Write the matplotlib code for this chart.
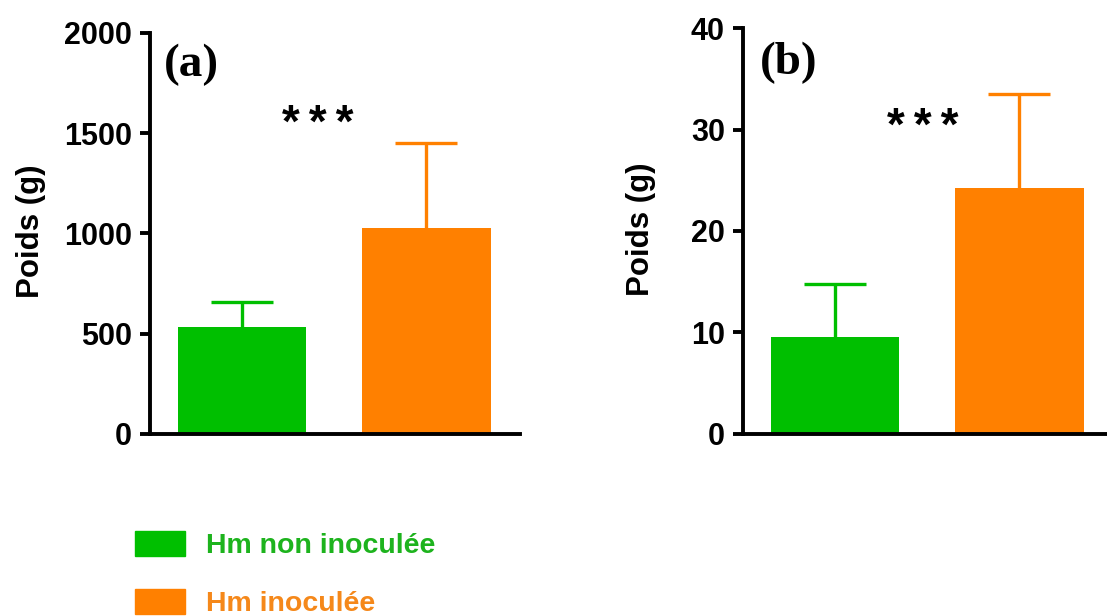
import matplotlib.pyplot as plt
from matplotlib.patches import Patch

groups = ['Hm non inoculée', 'Hm inoculée']
colors = ['#00BF00', '#FF8000']
text_colors = ['#1DB31D', '#F5881A']

poids_a = [532, 1025]
err_a = [128, 426]
poids_b = [9.6, 24.2]
err_b = [5.15, 9.3]

plt.rcParams['font.family'] = ['Liberation Sans', 'DejaVu Sans']

fig = plt.figure(figsize=(11.07, 6.16), dpi=100)
ax_a = fig.add_axes([0.1355, 0.2955, 0.3342, 0.651])
ax_b = fig.add_axes([0.6712, 0.2955, 0.3342, 0.659])

def draw(ax, vals, errs, ymax, step, tag, tag_xy, star_xy, label_x):
    x = [1, 2]
    ax.bar(x, vals, width=0.70, color=colors, zorder=2)
    for xi, v, e, c in zip(x, vals, errs, colors):
        _, caps, _ = ax.errorbar(xi, v, yerr=[[0], [e]], color=c, elinewidth=2.4,
                                 capsize=22, capthick=2.4, zorder=1)
        caps[0].set_visible(False)
    ax.set_xlim(0.5, 2.51)
    ax.set_ylim(0, ymax)
    ax.set_yticks(range(0, ymax + 1, step))
    ax.set_xticks([])
    for s in ['top', 'right']:
        ax.spines[s].set_visible(False)
    for s in ['left', 'bottom']:
        ax.spines[s].set_linewidth(2.8)
    ax.tick_params(axis='y', length=7, width=2.8, labelsize=22, pad=6)
    for lab in ax.get_yticklabels():
        lab.set_fontweight('bold')
    ax.set_ylabel('Poids (g)', fontsize=22.5, fontweight='bold')
    ax.yaxis.set_label_coords(label_x, 0.505)
    ax.text(tag_xy[0], tag_xy[1], tag, transform=ax.transAxes, fontsize=34,
            fontweight='bold', family='Liberation Serif', va='center', ha='center')
    ax.text(star_xy[0], star_xy[1], '*\u2009*\u2009*', fontsize=33, fontweight='bold',
            ha='center', va='baseline')

draw(ax_a, poids_a, err_a, 2000, 500, '(a)', (0.111, 0.92), (1.41, 1481), -0.281)
draw(ax_b, poids_b, err_b, 40, 10, '(b)', (0.124, 0.914), (1.475, 29.0), -0.235)

handles = [Patch(facecolor=c, edgecolor=c) for c in colors]
leg = fig.legend(handles, groups, loc='upper left', bbox_to_anchor=(0.122, 0.138),
                 frameon=False, handlelength=1.75, handleheight=0.95,
                 handletextpad=0.75, labelspacing=1.06, borderpad=0, borderaxespad=0,
                 prop={'weight': 'bold', 'size': 20.5})
for t, c in zip(leg.get_texts(), text_colors):
    t.set_color(c)

fig.savefig('out.png', dpi=100)
